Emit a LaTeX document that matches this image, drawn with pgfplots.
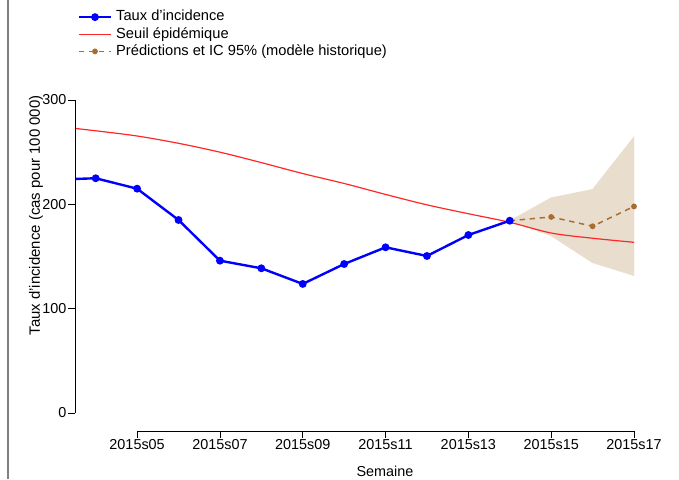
\documentclass[border=0pt]{standalone}
\usepackage{pgfplots}
\pgfplotsset{compat=1.18}
\usepackage{fontspec}
\setmainfont{Liberation Sans}
\definecolor{myblue}{RGB}{0,0,255}
\definecolor{myred}{RGB}{255,40,40}
\definecolor{mybrown}{RGB}{172,108,46}
\definecolor{myfill}{RGB}{233,221,205}
\definecolor{mygray}{RGB}{128,128,128}
\begin{document}
\begin{tikzpicture}
\path[use as bounding box] (0,0) rectangle (509.25pt,359.25pt);
\draw[mygray, line width=1.3pt] (6pt,0) -- (6pt,359.25pt);
\begin{axis}[
  at={(56.25pt,36pt)}, anchor=south west,
  scale only axis, width=419.25pt, height=248.25pt,
  xmin=3.5, xmax=17, ymin=-17.25, ymax=300,
  axis x line=bottom, axis y line=left,
  axis line style={draw=none},
  tick align=outside, major tick length=5pt,
  tick style={black, line width=0.6pt},
  xtick={5,7,9,11,13,15,17},
  xticklabels={2015s05,2015s07,2015s09,2015s11,2015s13,2015s15,2015s17},
  ytick={0,100,200,300},
  /pgf/number format/assume math mode=true,
  ticklabel style={font=\fontsize{10.8}{12}\selectfont},
  xticklabel style={inner sep=1.2pt},
  yticklabel style={inner sep=1.2pt},
  xlabel={Semaine},
  ylabel={Taux d'incidence (cas pour 100 000)},
  xlabel style={at={(axis description cs:0.5546,0)}, anchor=center, yshift=-30.4pt, font=\fontsize{10.8}{12}\selectfont},
  ylabel style={at={(axis description cs:-0.0698,0.651)}, anchor=center, rotate=0, font=\fontsize{11.2}{12}\selectfont},
  legend image code/.code={\draw[mark repeat=2,mark phase=2,#1] plot coordinates {(0pt,0pt) (12pt,0pt) (24pt,0pt)};},
  legend style={at={(axis description cs:0.005,1.271)}, anchor=north west,
    draw=none, fill=none, inner sep=0pt, outer sep=0pt, row sep=2.6pt,
    font=\fontsize{11}{12}\selectfont,
    nodes={inner sep=0pt, text height=8pt, text depth=2.25pt},
    /tikz/every odd column/.append style={column sep=3pt}},
  legend cell align=left,
]
\addlegendimage{myblue, line width=1.8pt, mark=*, mark size=2pt}
\addlegendentry{Taux d'incidence}
\addlegendimage{myred, line width=0.9pt}
\addlegendentry{Seuil épidémique}
\addlegendimage{mybrown, line width=1.1pt, dash pattern=on 4pt off 3.5pt, mark=*, mark size=1.6pt, mark options={solid}}
\addlegendentry{Prédictions et IC 95\% (modèle historique)}

% IC 95%
\addplot[fill=myfill, draw=myfill, line width=0.3pt, forget plot] coordinates {
 (14,184.3) (15,206.4) (16,214.4) (17,264.9)
 (17,131.6) (16,144.0) (15,169.7) (14,184.3)} -- cycle;

% Seuil
\addplot[myred, line width=0.9pt, smooth, forget plot] coordinates {
 (3,275) (4,270.5) (5,265.5) (6,258.5) (7,250) (8,240) (9,229.5) (10,220)
 (11,209.5) (12,199.5) (13,191) (14,182.8) (15,172.5) (16,167.5) (17,163.6)};

% Predictions
\addplot[mybrown, line width=1.1pt, dash pattern=on 4pt off 3.5pt, mark=*, mark size=1.6pt, mark options={solid}, forget plot] coordinates {
 (14,184.3) (15,187.9) (16,179) (17,198)};

% Taux
\addplot[myblue, line width=1.8pt, mark=*, mark size=2pt, forget plot] coordinates {
 (3,223.6) (4,225) (5,215) (6,185) (7,146) (8,138.7) (9,123.7) (10,142.8)
 (11,158.8) (12,150.5) (13,170.6) (14,184.3)};

\coordinate (xa) at (axis cs:5,-17.25);
\coordinate (xb) at (axis cs:17,-17.25);
\coordinate (ya) at (axis cs:3.5,0);
\coordinate (yb) at (axis cs:3.5,300);
\end{axis}
\draw[black, line width=0.6pt] (xa) -- (xb);
\draw[black, line width=0.6pt] (ya) -- (yb);
\end{tikzpicture}
\end{document}
